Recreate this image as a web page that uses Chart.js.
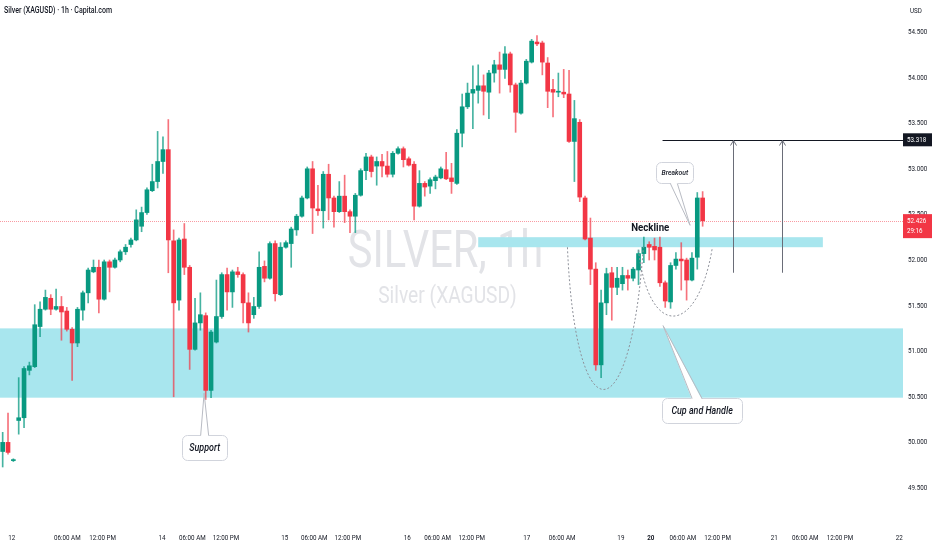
<!DOCTYPE html>
<html><head><meta charset="utf-8">
<script src="https://cdn.jsdelivr.net/npm/chart.js@4.4.1/dist/chart.umd.min.js"></script>
<style>html,body{margin:0;padding:0;background:#fff;overflow:hidden}#wrap{width:932px;height:550px}</style>
</head><body><div id="wrap"><canvas id="c" width="932" height="550"></canvas></div>
<script>
// ---- data (hourly OHLC, XAGUSD) ----
const opens  = [49.90,50.00,49.80,50.24,50.27,50.79,50.83,51.27,51.46,51.58,51.46,51.49,51.44,51.24,51.09,51.45,51.64,51.87,51.92,51.57,51.98,51.92,52.00,52.09,52.17,52.22,52.37,52.52,52.76,52.86,53.08,53.21,52.21,51.56,52.23,51.92,51.02,51.31,51.39,50.57,51.10,51.38,51.84,51.65,51.87,51.84,51.53,51.40,51.49,51.93,51.80,52.18,51.62,52.14,52.18,52.33,52.48,52.68,53.00,52.56,52.54,52.94,52.68,52.53,52.70,52.53,52.48,52.71,52.98,53.13,53.03,53.08,53.03,52.94,53.17,53.22,53.11,53.05,52.59,52.84,52.81,52.87,52.90,52.99,52.90,52.84,53.39,53.68,53.83,53.86,53.91,53.84,54.05,54.14,54.09,54.26,53.92,53.61,53.94,54.17,54.39,54.38,54.16,53.87,53.84,53.84,53.82,53.30,53.51,52.68,52.24,51.90,50.85,51.53,51.86,51.70,51.74,51.83,51.80,51.89,52.07,52.17,52.15,52.14,51.75,51.54,51.94,52.01,52.00,51.78,52.03,52.68];
const closes = [50.00,49.89,49.81,50.27,50.81,50.84,51.29,51.46,51.59,51.46,51.49,51.43,51.24,51.09,51.46,51.64,51.89,51.92,51.57,51.98,51.92,52.00,52.09,52.14,52.22,52.44,52.52,52.77,52.86,53.08,53.21,52.22,51.53,52.22,51.92,51.02,51.31,51.40,50.57,51.21,51.38,51.84,51.65,51.87,51.84,51.53,51.31,51.49,51.92,51.80,52.18,51.63,52.14,52.19,52.34,52.48,52.68,53.00,52.57,52.54,52.94,52.68,52.53,52.70,52.53,52.48,52.71,52.98,53.13,52.97,53.08,53.03,52.94,53.17,53.22,53.10,53.04,52.59,52.84,52.80,52.88,52.91,53.00,52.89,52.86,53.39,53.68,53.83,53.87,53.91,53.85,54.05,54.14,54.09,54.26,53.92,53.62,53.94,54.18,54.40,54.37,54.17,53.85,53.84,53.85,53.82,53.30,53.55,52.69,52.23,51.90,50.85,51.53,51.85,51.70,51.80,51.83,51.80,51.90,52.07,52.14,52.14,52.11,51.75,51.55,51.94,52.01,51.99,51.78,52.02,52.68,52.43];
const highs  = [50.11,50.32,49.82,50.71,50.83,50.88,51.51,51.54,51.67,51.62,51.68,51.60,51.48,51.26,51.48,51.66,51.91,52.00,52.00,52.00,52.00,52.02,52.11,52.17,52.24,52.55,52.58,52.79,53.05,53.41,53.35,53.54,52.33,52.24,52.40,51.94,51.58,51.64,51.42,51.23,51.78,51.86,51.91,51.89,51.92,51.86,51.64,51.59,52.09,51.99,52.20,52.21,52.19,52.21,52.36,52.50,52.70,53.02,53.08,52.82,52.97,53.05,52.70,52.86,52.93,52.55,52.73,53.00,53.17,53.15,53.13,53.16,53.19,53.19,53.24,53.24,53.13,53.08,52.98,52.86,52.90,52.93,53.02,53.18,53.06,53.43,53.82,53.94,54.13,54.14,54.03,54.08,54.19,54.28,54.34,54.28,53.94,53.97,54.20,54.42,54.46,54.40,54.22,53.98,54.05,54.09,54.08,53.75,53.54,52.70,52.46,51.97,51.67,51.91,51.92,51.92,51.92,51.89,51.92,52.11,52.25,52.20,52.24,52.25,51.77,51.97,52.08,52.19,52.02,52.08,52.74,52.75];
const lows   = [49.73,49.87,49.79,50.09,50.16,50.74,50.82,51.16,51.45,51.40,51.45,51.12,51.22,50.68,51.05,51.34,51.53,51.86,51.42,51.56,51.65,51.91,51.98,52.06,52.14,52.21,52.31,52.50,52.75,52.79,52.95,51.86,50.50,51.45,51.84,50.80,51.01,51.23,50.47,50.49,51.09,51.36,51.45,51.48,51.81,51.31,51.21,51.36,51.47,51.76,51.79,51.55,51.61,52.13,51.92,52.27,52.47,52.67,52.29,52.49,52.35,52.44,52.36,52.52,52.41,52.30,52.30,52.70,52.88,52.91,52.82,52.91,52.91,52.91,53.16,53.02,53.03,52.44,52.58,52.70,52.73,52.78,52.89,52.88,52.73,52.83,53.24,53.66,53.44,53.72,53.59,53.55,53.95,53.83,53.99,53.84,53.40,53.60,53.93,54.16,54.35,54.03,53.67,53.57,53.79,53.78,53.29,52.86,52.64,52.22,51.73,50.79,50.71,51.40,51.34,51.62,51.67,51.67,51.77,51.73,51.97,52.00,52.00,51.71,51.48,51.47,51.90,51.67,51.56,51.77,51.90,52.37];
const slotCount = 169;                 // hourly slots on the time axis (incl. future space)
const xTickIndex = [1.7,12.1,18.7,29.8,35.5,41.8,52.8,58.3,64.6,75.7,81.4,87.8,98.1,104.7,115.7,121.3,127.3,133.8,144.4,150.2,156.7,167.8];
const xTickText  = ['12','06:00 AM','12:00 PM','14','06:00 AM','12:00 PM','15','06:00 AM','12:00 PM','16','06:00 AM','12:00 PM','17','06:00 AM','19','20','06:00 AM','12:00 PM','21','06:00 AM','12:00 PM','22'];
const boldTickText = '20';
const yMin = 49.072, yMax = 54.851, yStep = 0.5;
const lastPrice = 52.426, countdown = '29:16';
const targetPrice = 53.318, targetFromIdx = 123.5;
const arrowIdx = [136.7, 145.8], arrowBase = 51.86;
const neckZone = [89, 153.5, 52.14, 52.25];        // fromIdx, toIdx, low, high
const supportZone = [-0.5, 168.5, 50.49, 51.25];
const cupCurve = [[105.7,52.14],[107.2,50.06],[117.5,50.06],[119.9,52.14]];
const handleCurve = [[119.0,52.11],[120.8,51.14],[130.0,51.14],[132.8,52.13]];
const neckLabel = ['Neckline', 121.2, 52.35];
const callouts = [
  {text:'Support', idx:37.8, price:49.94, tipIdx:37.7, tipPrice:50.54, w:45, h:25, dx:0, half:4, size:10.5},
  {text:'Breakout', idx:125.8, price:52.96, tipIdx:128.65, tipPrice:52.38, w:37, h:21, dx:-1, half:3.5, size:8},
  {text:'Cup and Handle', idx:130.9, price:50.35, tipIdx:123.6, tipPrice:51.28, w:80, h:25, dx:-5, half:5, size:10.5}
];
const titleText = 'Silver (XAGUSD) · 1h · Capital.com';
const watermark = ['SILVER, 1h', 'Silver (XAGUSD)'];
const currency = 'USD';

// ---- styling ----
const GREEN = '#089981', RED = '#f23645';
const WICK_G = 'rgba(8,153,129,0.75)', WICK_R = 'rgba(242,54,69,0.7)';
const ZONE = '#a8e6ee';
const TXT = '#131722';
const AXFONT = '8px Roboto';
const AXSQ = 0.78;

const labels = Array.from({length: slotCount}, (_, i) => String(i));
const up = i => closes[i] >= opens[i];
const bodyData = opens.map((o, i) => [o, closes[i]]);
const wickData = opens.map((o, i) => [lows[i], highs[i]]);

function sqText(ctx, text, x, y, font, sx, color, align) {
  ctx.save();
  ctx.font = font; ctx.fillStyle = color; ctx.textAlign = align || 'center'; ctx.textBaseline = 'middle';
  ctx.translate(x, y); ctx.scale(sx, 1); ctx.fillText(text, 0, 0);
  ctx.restore();
}
function rrect(ctx, l, t, w, h, r) {
  ctx.beginPath();
  ctx.moveTo(l + r, t); ctx.lineTo(l + w - r, t); ctx.arcTo(l + w, t, l + w, t + r, r);
  ctx.lineTo(l + w, t + h - r); ctx.arcTo(l + w, t + h, l + w - r, t + h, r);
  ctx.lineTo(l + r, t + h); ctx.arcTo(l, t + h, l, t + h - r, r);
  ctx.lineTo(l, t + r); ctx.arcTo(l, t, l + r, t, r); ctx.closePath();
}

const overlay = {
  id: 'overlay',
  beforeDatasetsDraw(chart) {
    const {ctx, chartArea: a, scales: {x, y}} = chart;
    ctx.save();
    const cx = (a.left + a.right) / 2 - 6;
    sqText(ctx, watermark[0], cx, 254, '52px Roboto', 0.8, '#e2e3e7');
    sqText(ctx, watermark[1], cx + 2, 297, '24px Roboto', 0.8, '#e2e3e7');
    ctx.fillStyle = ZONE;
    for (const z of [supportZone, neckZone]) {
      const x0 = Math.max(a.left, x.getPixelForValue(z[0])), x1 = Math.min(a.right, x.getPixelForValue(z[1]));
      const y0 = y.getPixelForValue(z[3]), y1 = y.getPixelForValue(z[2]);
      ctx.fillRect(x0, y0, x1 - x0, y1 - y0);
    }
    const py = Math.round(y.getPixelForValue(lastPrice)) + 0.5;
    ctx.strokeStyle = 'rgba(242,54,69,0.5)'; ctx.lineWidth = 1;
    ctx.setLineDash([1, 1]);
    ctx.beginPath(); ctx.moveTo(a.left, py); ctx.lineTo(a.right, py); ctx.stroke();
    ctx.restore();
  },
  afterDatasetsDraw(chart) {
    const {ctx, chartArea: a, scales: {x, y}} = chart;
    ctx.save();
    ctx.strokeStyle = '#8f929b'; ctx.lineWidth = 1; ctx.setLineDash([2, 2]);
    for (const c of [cupCurve, handleCurve]) {
      const p = c.map(q => [x.getPixelForValue(q[0]), y.getPixelForValue(q[1])]);
      ctx.beginPath(); ctx.moveTo(p[0][0], p[0][1]);
      ctx.bezierCurveTo(p[1][0], p[1][1], p[2][0], p[2][1], p[3][0], p[3][1]); ctx.stroke();
    }
    ctx.setLineDash([]);
    const ty = Math.round(y.getPixelForValue(targetPrice)) + 0.5;
    ctx.strokeStyle = '#131722';
    ctx.beginPath(); ctx.moveTo(x.getPixelForValue(targetFromIdx), ty); ctx.lineTo(a.right, ty); ctx.stroke();
    ctx.strokeStyle = '#6a6d78';
    for (const ai of arrowIdx) {
      const ax = Math.round(x.getPixelForValue(ai)) + 0.5;
      const by = y.getPixelForValue(arrowBase);
      ctx.beginPath(); ctx.moveTo(ax, by); ctx.lineTo(ax, ty); ctx.stroke();
      ctx.beginPath(); ctx.moveTo(ax - 3, ty + 5); ctx.lineTo(ax, ty); ctx.lineTo(ax + 3, ty + 5); ctx.stroke();
    }
    sqText(ctx, neckLabel[0], x.getPixelForValue(neckLabel[1]), y.getPixelForValue(neckLabel[2]), 'bold 11px Roboto', 0.88, TXT);
    for (const c of callouts) {
      const cx = x.getPixelForValue(c.idx), cy = y.getPixelForValue(c.price);
      const tx = x.getPixelForValue(c.tipIdx), tyy = y.getPixelForValue(c.tipPrice);
      const l = Math.round(cx - c.w / 2) + 0.5, t = Math.round(cy - c.h / 2) + 0.5;
      const above = tyy < t;
      const ey = above ? t : t + c.h, inside = above ? 1.5 : -1.5;
      const bx = cx + c.dx;
      ctx.fillStyle = '#fff'; ctx.strokeStyle = '#d1d4dc'; ctx.lineWidth = 1;
      rrect(ctx, l, t, c.w, c.h, 5); ctx.fill(); ctx.stroke();
      ctx.beginPath(); ctx.moveTo(bx - c.half, ey + inside); ctx.lineTo(tx, tyy); ctx.lineTo(bx + c.half, ey + inside); ctx.closePath(); ctx.fill();
      ctx.strokeStyle = '#b8bbc3';
      ctx.beginPath(); ctx.moveTo(bx - c.half, ey); ctx.lineTo(tx, tyy); ctx.lineTo(bx + c.half, ey); ctx.stroke();
      sqText(ctx, c.text, cx, cy + 0.5, 'italic 500 ' + c.size + 'px Roboto', 0.85, TXT);
    }
    ctx.restore();
  },
  afterDraw(chart) {
    const {ctx, chartArea: a, scales: {x, y}} = chart;
    ctx.save();
    const w = chart.width - a.right;
    // time axis labels (positions from the category scale)
    xTickIndex.forEach((idx, k) => {
      const t = xTickText[k];
      sqText(ctx, t, x.getPixelForValue(idx), 537.5, (t === boldTickText ? 'bold ' : '') + AXFONT, AXSQ, TXT);
    });
    // price axis labels (ticks generated by the linear scale)
    y.ticks.forEach(tk => {
      sqText(ctx, tk.value.toFixed(3), a.right + 5, y.getPixelForValue(tk.value), AXFONT, AXSQ, TXT, 'left');
    });
    const ty = y.getPixelForValue(targetPrice);
    ctx.fillStyle = '#131722'; ctx.fillRect(a.right, ty - 6.5, w, 13);
    sqText(ctx, targetPrice.toFixed(3), a.right + 4, ty, AXFONT, AXSQ, '#fff', 'left');
    const py = y.getPixelForValue(lastPrice);
    ctx.fillStyle = RED; ctx.fillRect(a.right, py - 7, w, 24);
    sqText(ctx, lastPrice.toFixed(3), a.right + 4, py, AXFONT, AXSQ, '#fff', 'left');
    sqText(ctx, countdown, a.right + 4, py + 10, AXFONT, AXSQ, '#fff', 'left');
    sqText(ctx, titleText, 4, 11, '500 9.5px Roboto', 0.74, TXT, 'left');
    sqText(ctx, currency, a.right + 7, 11, AXFONT, AXSQ, TXT, 'left');
    ctx.restore();
  }
};

new Chart(document.getElementById('c'), {
  type: 'bar',
  data: {
    labels,
    datasets: [
      {label: 'body', data: bodyData, grouped: false, barThickness: 4, minBarLength: 1, borderWidth: 0,
       backgroundColor: c => up(c.dataIndex) ? GREEN : RED},
      {label: 'wick', data: wickData, grouped: false, barThickness: 1, borderWidth: 0,
       backgroundColor: c => up(c.dataIndex) ? WICK_G : WICK_R}
    ]
  },
  options: {
    responsive: false, animation: false, devicePixelRatio: 1,
    layout: {padding: 0},
    plugins: {legend: {display: false}, tooltip: {enabled: false}},
    scales: {
      x: {
        type: 'category', offset: true,
        grid: {display: false, drawTicks: false}, border: {display: false},
        ticks: {display: false},
        afterFit: s => { s.height = 23; s.paddingLeft = 0; s.paddingRight = 0; }
      },
      y: {
        position: 'right', min: yMin, max: yMax,
        grid: {display: false, drawTicks: false}, border: {display: false},
        ticks: {display: false, stepSize: yStep, includeBounds: false},
        afterFit: s => { s.width = 29; s.paddingTop = 0; s.paddingBottom = 0; }
      }
    }
  },
  plugins: [overlay]
});
</script>
</body></html>
